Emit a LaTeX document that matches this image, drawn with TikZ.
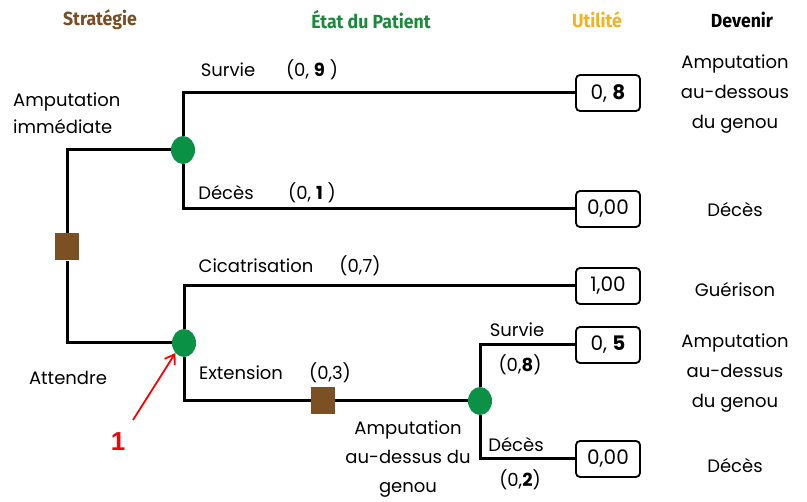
\documentclass[tikz,border=0pt]{standalone}
\usepackage{fontspec}
\setmainfont{Poppins}
\newfontfamily\headfont[FakeStretch=0.93]{Fira Sans}
\newfontfamily\arialfont{Liberation Sans}
\usepackage{tikz}
\usetikzlibrary{arrows.meta,positioning,shapes.geometric,backgrounds}
\definecolor{hbrown}{HTML}{7A4E21}
\definecolor{hgreen}{HTML}{1B8A3C}
\definecolor{horange}{HTML}{F4B21B}
\definecolor{decbrown}{HTML}{7B5124}
\definecolor{chgreen}{HTML}{0A9146}
\tikzset{
  br/.style={line width=3pt, draw=black},
  chance/.style={ellipse, fill=chgreen, minimum width=24pt, minimum height=28pt, inner sep=0pt},
  decide/.style={rectangle, fill=decbrown, minimum width=24pt, minimum height=27pt, inner sep=0pt},
  util/.style={draw, rounded corners=4pt, line width=1.8pt, fill=white, minimum width=64pt, minimum height=36pt, inner sep=0pt, font=\fontsize{20}{22}\selectfont},
  lab/.style={font=\fontsize{18}{20}\selectfont, inner sep=0pt},
  stk/.style={lab, align=center, font=\fontsize{18}{30}\selectfont},
  hd/.style={font=\headfont\bfseries\fontsize{19}{21}\selectfont, inner sep=0pt},
  redar/.style={-{Straight Barb[length=9pt,width=12pt]}, line width=1.8pt, draw=red},
}
\begin{document}
\begin{tikzpicture}[x=1pt, y=-1pt]
  \useasboundingbox (0,0) rectangle (807,502);
  % column headers
  \node[hd, text=hbrown] (hstrat) at (100,20) {Stratégie};
  \node[hd, text=hgreen] (hetat) at (371,20) {État du Patient};
  \node[hd, text=horange] (hutil) at (597,20) {Utilité};
  \node[hd] (hdev) at (742,20) {Devenir};
  % tree nodes
  \node[decide] (sq1) at (67,247) {};
  \node[chance] (ch1) at (183,150) {};
  \node[chance] (ch2) at (184,343) {};
  \node[decide] (sq2) at (323,401) {};
  \node[chance] (ch3) at (480,401) {};
  % utilities
  \node[util] (u1) at (608,93) {0, \textbf{8}};
  \node[util] (u2) at (608,209) {0,00};
  \node[util] (u3) at (608,286) {1,00};
  \node[util] (u4) at (608,345) {0, \textbf{5}};
  \node[util] (u5) at (608,459) {0,00};
  % branches
  \begin{scope}[on background layer]
    \draw[br] (sq1) |- (ch1);
    \draw[br] (sq1) |- (ch2);
    \draw[br] (ch1) |- (u1);
    \draw[br] (ch1) |- (u2);
    \draw[br] (ch2) |- (u3);
    \draw[br] (ch2) |- (sq2);
    \draw[br] (sq2) -- (ch3);
    \draw[br] (ch3) |- (u4);
    \draw[br] (ch3) |- (u5);
  \end{scope}
  % branch labels
  \node[lab] (lsurv1) at (228,70) {Survie};
  \node[lab] (psurv1) at (312,70) {(0, \textbf{9} )};
  \node[lab] (ldec1) at (226,193) {Décès};
  \node[lab] (pdec1) at (312,193) {(0, \textbf{1} )};
  \node[stk, align=left, anchor=west, font=\fontsize{18}{27}\selectfont] (limm) at (13,113) {Amputation\\immédiate};
  \node[lab] (latt) at (68,378) {Attendre};
  \node[lab] (lcic) at (256,266) {Cicatrisation};
  \node[lab] (pcic) at (360,266) {(0,7)};
  \node[lab] (lext) at (241,373) {Extension};
  \node[lab] (pext) at (330,373) {(0,3)};
  \node[stk, font=\fontsize{18}{29}\selectfont] (lamp) at (408,459) {Amputation\\au-dessus du\\genou};
  \node[lab] (lsurv2) at (517,330) {Survie};
  \node[lab] (psurv2) at (520,365) {(0,\textbf{8})};
  \node[lab] (ldec2) at (516,445) {Décès};
  \node[lab] (pdec2) at (520,480) {(0,\textbf{2})};
  % outcomes
  \node[stk] (d1) at (735,94) {Amputation\\au-dessous\\du genou};
  \node[lab] (d2) at (735,210) {Décès};
  \node[lab] (d3) at (735,290) {Guérison};
  \node[stk] (d4) at (735,373) {Amputation\\au-dessus\\du genou};
  \node[lab] (d5) at (735,466) {Décès};
  % red marker
  \node[font=\arialfont\bfseries\fontsize{26}{28}\selectfont, text=red, inner sep=0pt] (one) at (118,442) {1};
  \coordinate (tail) at (133,420);
  \draw[redar] (tail) -- (ch2.south west);
\end{tikzpicture}
\end{document}
